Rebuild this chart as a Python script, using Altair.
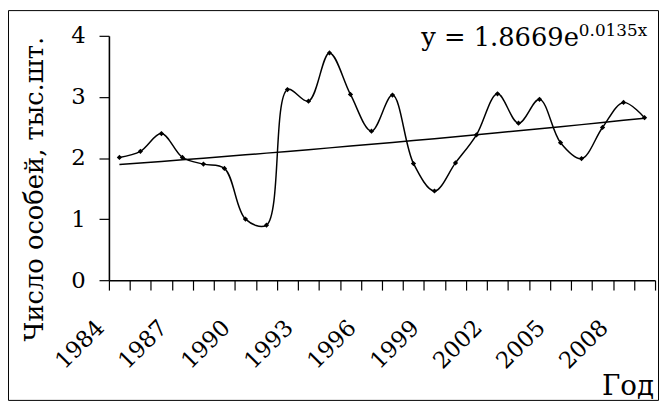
import altair as alt
import pandas as pd
import numpy as np

# ---- data ----
years = list(range(1984, 2010))
counts = [2.01, 2.11, 2.40, 2.01, 1.90, 1.83, 1.00, 0.90, 3.12, 2.93, 3.72, 3.04, 2.44,
          3.03, 1.91, 1.46, 1.92, 2.38, 3.05, 2.57, 2.96, 2.25, 1.99, 2.50, 2.91, 2.66]
label_years = [1984, 1987, 1990, 1993, 1996, 1999, 2002, 2005, 2008]
y_ticks = [0, 1, 2, 3, 4]
trend_a = 1.8669
trend_b = 0.0135
y_title = "Число особей, тыс.шт."
x_title = "Год"
eq_main = f"y = {trend_a}e"
eq_sup = f"{trend_b}x"

FONT = "DejaVu Serif"
W, H = 552, 247

df = pd.DataFrame({"year": years, "count": counts})
df["idx"] = np.arange(1, len(years) + 1)
df["trend"] = trend_a * np.exp(trend_b * df["idx"])

labels_df = pd.DataFrame({"year": label_years, "label": [str(y) for y in label_years]})
boundaries = [y - 0.5 for y in years] + [years[-1] + 0.5]

xscale = alt.Scale(domain=[years[0] - 0.5, years[-1] + 0.5], nice=False, zero=False)
yscale = alt.Scale(domain=[0, 4], nice=False)
xaxis = alt.Axis(values=boundaries, labels=False, title=None, grid=False,
                 tickSize=10, tickColor="black", tickWidth=1.2,
                 domainColor="black", domainWidth=1.6)
yaxis = alt.Axis(values=y_ticks, title=None, grid=False, tickSize=10,
                 tickColor="black", tickWidth=1.2, domainColor="black",
                 domainWidth=1.6, labelFont=FONT, labelFontSize=23,
                 labelColor="black", labelPadding=14)

X = alt.X("year:Q", scale=xscale, axis=xaxis)

base = alt.Chart(df)

line = base.mark_line(interpolate="catmull-rom", color="black", strokeWidth=1.5).encode(
    x=X, y=alt.Y("count:Q", scale=yscale, axis=yaxis),
)

points = base.mark_point(shape="diamond", filled=True, size=28, color="black", opacity=1).encode(
    x=X, y=alt.Y("count:Q", scale=yscale, axis=yaxis),
)

trend = base.mark_line(color="black", strokeWidth=1.5).encode(
    x=X, y=alt.Y("trend:Q", scale=yscale, axis=yaxis),
)

year_labels = alt.Chart(labels_df).mark_text(
    font=FONT, fontSize=23, color="black", angle=315, align="right", baseline="middle",
    dx=-45, dy=18,
).encode(
    x=X,
    y=alt.value(H),
    text="label:N",
)

one = alt.Data(values=[{}])

ytitle = alt.Chart(one).mark_text(
    font=FONT, fontSize=26, color="black", angle=270, align="center", baseline="alphabetic",
    text=y_title,
).encode(x=alt.value(-67), y=alt.value(155))

xtitle = alt.Chart(one).mark_text(
    font=FONT, fontSize=28, color="black", align="right", baseline="alphabetic",
    text=x_title,
).encode(x=alt.value(551), y=alt.value(363))

eq1 = alt.Chart(one).mark_text(
    font=FONT, fontSize=26, color="black", align="right", baseline="alphabetic",
    text=eq_main,
).encode(x=alt.value(475), y=alt.value(10))

eq2 = alt.Chart(one).mark_text(
    font=FONT, fontSize=17, color="black", align="left", baseline="alphabetic",
    text=eq_sup,
).encode(x=alt.value(475), y=alt.value(0))

frame = alt.Chart(one).mark_rect(fill="transparent", stroke="black", strokeWidth=1).encode(
    x=alt.value(-101.5), x2=alt.value(555.5), y=alt.value(-25.5), y2=alt.value(368.5)
)

chart = alt.layer(trend, line, points, year_labels, frame, ytitle, xtitle, eq1, eq2).properties(
    width=W, height=H,
    autosize=alt.AutoSizeParams(type="none"),
    padding={"left": 102, "top": 26, "right": 4, "bottom": 122},
    background="white",
).configure_view(strokeWidth=0)

chart.save("out.html", embed_options={"renderer": "svg", "actions": False})
